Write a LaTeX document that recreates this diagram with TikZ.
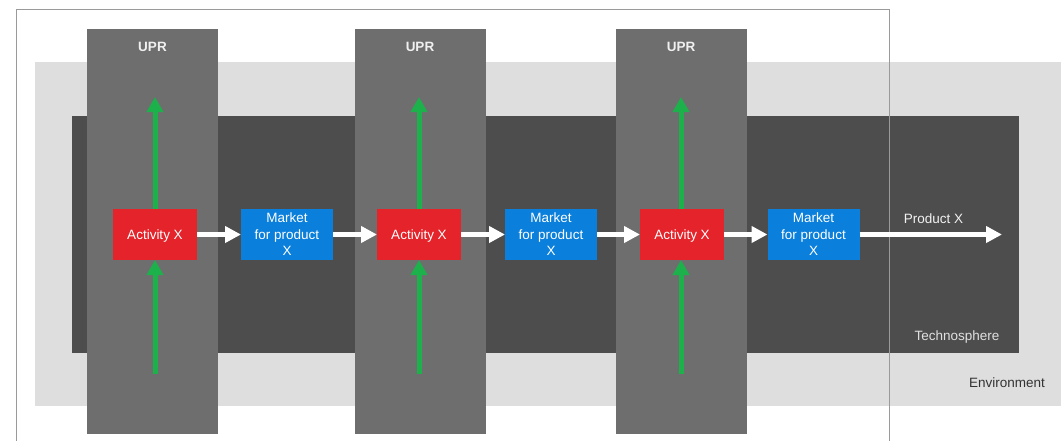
\documentclass[tikz,border=0pt]{standalone}
\usepackage{fontspec}
\setmainfont{Liberation Sans}
\usetikzlibrary{arrows.meta}
\definecolor{envgray}{HTML}{DEDEDE}
\definecolor{techgray}{HTML}{4D4D4D}
\definecolor{uprgray}{HTML}{6E6E6E}
\definecolor{framegray}{HTML}{9A9A9A}
\definecolor{actred}{HTML}{E5232A}
\definecolor{mktblue}{HTML}{0A7FDB}
\definecolor{flowgreen}{HTML}{1DB14B}
\tikzset{
  block/.style={rectangle, inner sep=0pt, outer sep=0pt},
  upr/.style={block, fill=uprgray, minimum width=131pt, minimum height=405pt},
  activity/.style={block, fill=actred, text=white, minimum width=84pt, minimum height=51pt, text depth=0pt, font=\fontsize{13.5}{16}\selectfont},
  market/.style={block, fill=mktblue, text=white, minimum width=92pt, minimum height=51pt, align=center, font=\fontsize{13.5}{16.5}\selectfont},
  uprlabel/.style={text=white!94!black, font=\bfseries\fontsize{13.5}{16}\selectfont},
  product/.style={draw=white, line width=5pt, -{Triangle[width=16pt,length=16pt]}},
  elementary/.style={draw=flowgreen, line width=5pt, -{Triangle[width=16pt,length=15pt]}},
}
\begin{document}
\begin{tikzpicture}[x=1pt,y=-1pt]
\useasboundingbox (0,0) rectangle (1061,440);
\begin{scope}
\clip (0,0) rectangle (1061,440);
% environment and technosphere
\node[block, fill=envgray, minimum width=1026pt, minimum height=344pt] (env) at (548,234) {};
\node[block, fill=techgray, minimum width=947pt, minimum height=237pt] (tech) at (545.5,234.5) {};
\node[text=white!88!black, font=\fontsize{13.5}{16}\selectfont] (techlabel) at (957,337) {Technosphere};
\node[text=black!80, font=\fontsize{13.5}{16}\selectfont] (envlabel) at (1007,383) {Environment};
% unit process columns
\node[upr] (u1) at (152.5,231.5) {};
\node[upr] (u2) at (420,231.5) {};
\node[upr] (u3) at (681,231.5) {};
\node[uprlabel] (ul1) at (152.5,47) {UPR};
\node[uprlabel] (ul2) at (420,47) {UPR};
\node[uprlabel] (ul3) at (681,47) {UPR};
% system boundary
\draw[framegray, line width=1pt] (16,460) -- (16,9) -- (889,9) -- (889,460);
% activities and markets
\node[activity] (a1) at (155,234.5) {Activity X};
\node[activity] (a2) at (419,234.5) {Activity X};
\node[activity] (a3) at (682,234.5) {Activity X};
\node[market] (m1) at (287,234.5) {Market\\for product\\X};
\node[market] (m2) at (551,234.5) {Market\\for product\\X};
\node[market] (m3) at (813.5,234.5) {Market\\for product\\X};
% elementary flows
\coordinate (b1) at (155,374); \coordinate (t1) at (155,97);
\coordinate (b2) at (419,374); \coordinate (t2) at (419,97);
\coordinate (b3) at (681,374); \coordinate (t3) at (681,97);
\draw[elementary] (b1) -- (a1.south -| b1);
\draw[elementary] (a1.north -| t1) -- (t1);
\draw[elementary] (b2) -- (a2.south -| b2);
\draw[elementary] (a2.north -| t2) -- (t2);
\draw[elementary] (b3) -- (a3.south -| b3);
\draw[elementary] (a3.north -| t3) -- (t3);
% product flows
\draw[product] (a1) -- (m1);
\draw[product] (m1) -- (a2);
\draw[product] (a2) -- (m2);
\draw[product] (m2) -- (a3);
\draw[product] (a3) -- (m3);
\coordinate (out) at (1002,234.5);
\draw[product] (m3) -- (out);
\node[text=white!95!black, font=\fontsize{13.5}{16}\selectfont] (plabel) at (933.5,219) {Product X};
\end{scope}
\end{tikzpicture}
\end{document}
